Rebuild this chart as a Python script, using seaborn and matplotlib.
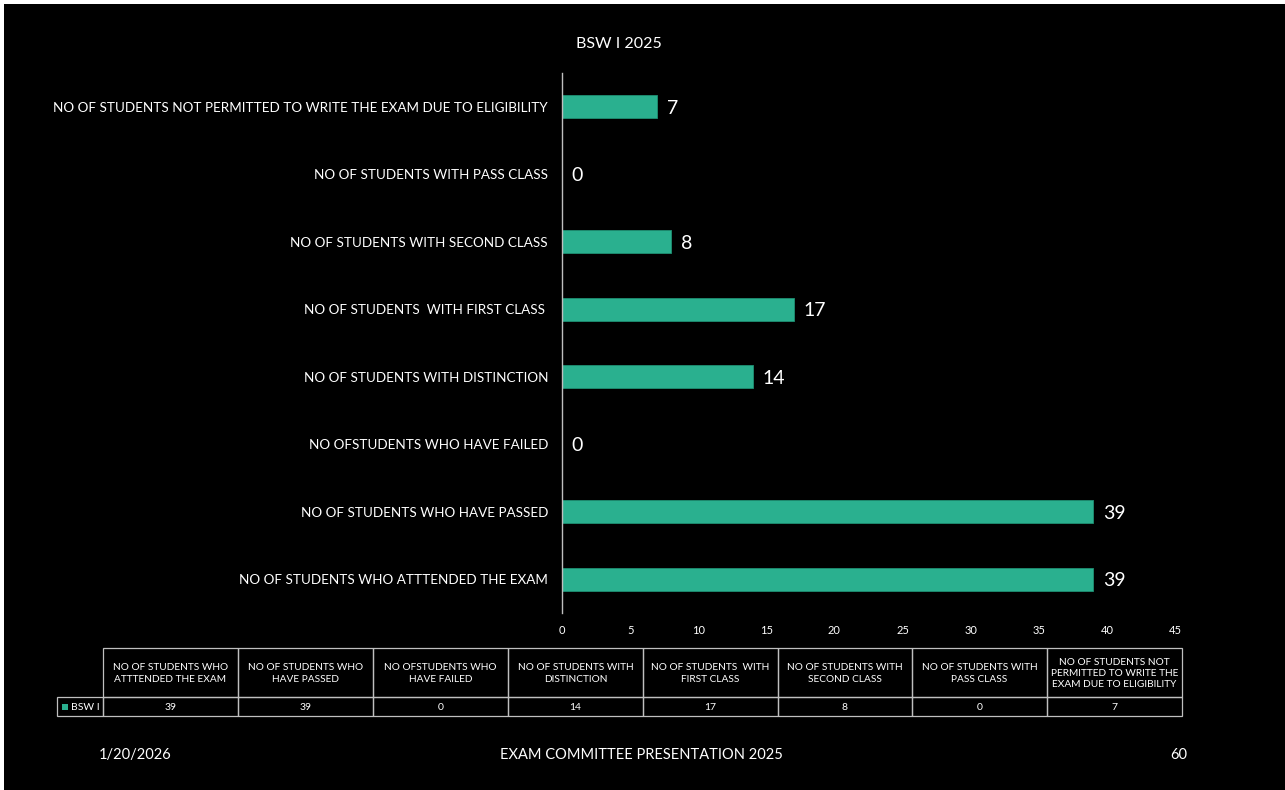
import matplotlib
matplotlib.use("Agg")
import matplotlib.pyplot as plt
import seaborn as sns
import pandas as pd
from matplotlib.patches import Rectangle

# ---- data ----
categories = [
    "NO OF STUDENTS WHO ATTTENDED THE EXAM",
    "NO OF STUDENTS WHO HAVE PASSED",
    "NO OFSTUDENTS WHO HAVE FAILED",
    "NO OF STUDENTS WITH DISTINCTION",
    "NO OF STUDENTS  WITH FIRST CLASS ",
    "NO OF STUDENTS WITH SECOND CLASS",
    "NO OF STUDENTS WITH PASS CLASS",
    "NO OF STUDENTS NOT PERMITTED TO WRITE THE EXAM DUE TO ELIGIBILITY",
]
table_headers = [
    "NO OF STUDENTS WHO\nATTTENDED THE EXAM",
    "NO OF STUDENTS WHO\nHAVE PASSED",
    "NO OFSTUDENTS WHO\nHAVE FAILED",
    "NO OF STUDENTS WITH\nDISTINCTION",
    "NO OF STUDENTS  WITH\nFIRST CLASS",
    "NO OF STUDENTS WITH\nSECOND CLASS",
    "NO OF STUDENTS WITH\nPASS CLASS",
    "NO OF STUDENTS NOT\nPERMITTED TO WRITE THE\nEXAM DUE TO ELIGIBILITY",
]
values = [39, 39, 0, 14, 17, 8, 0, 7]
series_name = "BSW I"
title = "BSW I 2025"
x_ticks = [0, 5, 10, 15, 20, 25, 30, 35, 40, 45]
footer_date = "1/20/2026"
footer_center = "EXAM COMMITTEE PRESENTATION 2025"
footer_page = "60"

BAR = "#2ab08f"
FG = "white"
LINE = "#bfbfbf"

sns.set_theme(style="white")
plt.rcParams["font.family"] = ["Lato", "DejaVu Sans"]

W, H = 1285, 790
fig = plt.figure(figsize=(W / 100, H / 100), dpi=100, facecolor="white")

# overlay in pixel coordinates (background, table, footer)
ov = fig.add_axes([0, 0, 1, 1], zorder=0)
ov.set_xlim(0, W)
ov.set_ylim(H, 0)
ov.axis("off")
ov.add_patch(Rectangle((4, 4), W - 4, H - 4, facecolor="black", edgecolor="none"))

# main chart
ax = fig.add_axes([562 / W, 1 - 613 / H, (1175 - 562) / W, (613 - 73) / H], zorder=1)
ax.set_facecolor("none")
df = pd.DataFrame({"cat": categories, "val": values})
order = categories[::-1]
sns.barplot(data=df, y="cat", x="val", order=order, orient="h", color=BAR,
            saturation=1, width=0.345, edgecolor="#1e8f73", linewidth=0.6, ax=ax)
ax.set_xlim(0, 45)
ax.set_ylim(len(order) - 0.5, -0.5)
ax.set_xticks(x_ticks)
ax.set_xticklabels([str(t) for t in x_ticks], color=FG, fontsize=8)
ax.tick_params(axis="x", length=0, pad=9)
ax.tick_params(axis="y", length=0, pad=10, labelsize=9.7, labelcolor=FG)
ax.set_xlabel("")
ax.set_ylabel("")
for s in ["top", "right", "bottom"]:
    ax.spines[s].set_visible(False)
ax.spines["left"].set_color(LINE)
ax.spines["left"].set_linewidth(1)
for c in ax.containers:
    txts = ax.bar_label(c, labels=[str(int(v)) for v in c.datavalues], padding=7,
                        color=FG, fontsize=14)
    for t in txts:
        t.set_verticalalignment("center_baseline")

ov.text(619, 44, title, color=FG, fontsize=11.5, ha="center", va="center")

# data table
col_edges = [103, 238, 373, 508, 643, 778, 912, 1047, 1182]
y0, y1, y2 = 648, 697, 716
lbl_left = 57
lw = 0.9
for i, hdr in enumerate(table_headers):
    xa, xb = col_edges[i], col_edges[i + 1]
    ov.add_patch(Rectangle((xa, y0), xb - xa, y1 - y0, fill=False, edgecolor=LINE, lw=lw))
    ov.add_patch(Rectangle((xa, y1), xb - xa, y2 - y1, fill=False, edgecolor=LINE, lw=lw))
    ov.text((xa + xb) / 2, (y0 + y1) / 2 + 1, hdr, color=FG, fontsize=7.3,
            ha="center", va="center", linespacing=1.35)
    ov.text((xa + xb) / 2, (y1 + y2) / 2 + 1, str(values[i]), color=FG, fontsize=7.5,
            ha="center", va="center")
ov.add_patch(Rectangle((lbl_left, y1), col_edges[0] - lbl_left, y2 - y1, fill=False,
                       edgecolor=LINE, lw=lw))
ov.add_patch(Rectangle((lbl_left + 5, (y1 + y2) / 2 - 3), 6, 6, facecolor=BAR, edgecolor="none"))
ov.text(lbl_left + 14, (y1 + y2) / 2 + 1, series_name, color=FG, fontsize=7.5,
        ha="left", va="center")

# footer
ov.text(135, 755, footer_date, color=FG, fontsize=10.5, ha="center", va="center")
ov.text(641, 755, footer_center, color=FG, fontsize=10.5, ha="center", va="center")
ov.text(1179, 755, footer_page, color=FG, fontsize=10.5, ha="center", va="center")

fig.savefig("out.png", dpi=100, facecolor=fig.get_facecolor())
